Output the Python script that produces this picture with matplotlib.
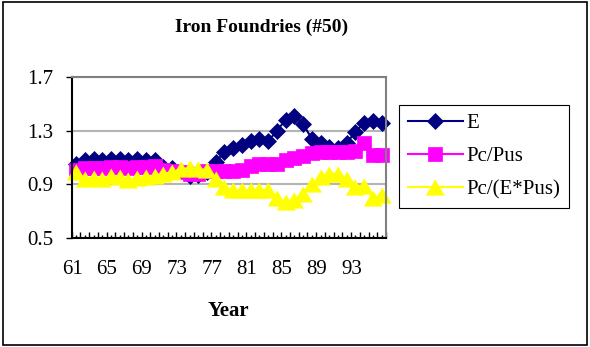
import numpy as np
import matplotlib.pyplot as plt
from matplotlib.patches import Rectangle
from matplotlib.transforms import ScaledTranslation

# annual series, 1961-1996
years = np.arange(61, 97)
e_idx = [1.05, 1.08, 1.09, 1.08, 1.09, 1.09, 1.08, 1.09, 1.08, 1.08,
         1.03, 1.02, 1.00, 0.96, 0.97, 0.99, 1.07, 1.14, 1.17, 1.19,
         1.22, 1.24, 1.22, 1.30, 1.38, 1.41, 1.35, 1.24, 1.21, 1.18,
         1.17, 1.21, 1.29, 1.36, 1.37, 1.36]
pc_pus = [1.01, 1.02, 1.02, 1.02, 1.03, 1.03, 1.02, 1.03, 1.03, 1.04,
          1.01, 1.00, 0.99, 0.98, 0.98, 1.00, 1.00, 1.00, 1.00, 1.01,
          1.04, 1.05, 1.05, 1.055, 1.08, 1.10, 1.11, 1.13, 1.14, 1.14,
          1.14, 1.14, 1.15, 1.21, 1.12, 1.12]
pc_e_pus = [0.99, 0.94, 0.95, 0.94, 0.96, 0.955, 0.935, 0.945, 0.955, 0.965,
            0.98, 0.99, 1.015, 1.02, 1.015, 1.005, 0.94, 0.88, 0.855, 0.855,
            0.855, 0.855, 0.86, 0.795, 0.765, 0.78, 0.83, 0.90, 0.955, 0.98,
            0.98, 0.94, 0.88, 0.89, 0.795, 0.82]
tick_years = [61, 65, 69, 73, 77, 81, 85, 89, 93]
y_ticks = [0.5, 0.9, 1.3, 1.7]

plt.rcParams['font.family'] = ['Liberation Serif', 'DejaVu Serif']

W, H, DPI = 590, 347, 100
fig = plt.figure(figsize=(W / DPI, H / DPI), dpi=DPI)
ax = fig.add_axes([71.7 / W, 1 - 238 / H, (386 - 71.7) / W, (238 - 77) / H])

tri = [(0, 0.85), (-1, -0.85), (1, -0.85)]
ax.plot(years, e_idx, color='#000080', lw=1.5, marker='D', ms=7.8,
        mfc='#000080', mec='#000080', mew=0.5, clip_on=False, label='E')
ax.plot(years, pc_pus, color='#FF00FF', lw=1.5, marker='s', ms=10,
        mfc='#FF00FF', mec='#FF00FF', mew=0.5, clip_on=False, label='Pc/Pus')
ax.plot(years, pc_e_pus, color='#FFFF00', lw=1.5, marker=tri, ms=13,
        mfc='#FFFF00', mec='#FFFF00', mew=0.5, clip_on=False, label='Pc/(E*Pus)')

ax.set_xlim(60.5, 96.5)
ax.set_ylim(0.5, 1.7)

# excel-like frame: black axes, grey plot-area border
for side in ['left', 'bottom']:
    ax.spines[side].set_color('black')
    ax.spines[side].set_linewidth(1.5)
for side in ['top', 'right']:
    ax.spines[side].set_color('#808080')
    ax.spines[side].set_linewidth(1.5)

ax.set_yticks(y_ticks)
ax.set_yticklabels([f'{v:.1f}' for v in y_ticks])
ax.yaxis.grid(True, color='#b4b4b4', lw=1.5)
ax.set_axisbelow(True)

ax.set_xticks(years)
ax.set_xticklabels([str(y) if y in tick_years else '' for y in years])
ax.set_xticks(np.arange(60.5, 97, 1), minor=True)
ax.tick_params(axis='x', which='major', direction='in', length=2, width=1,
               pad=15.5, labelsize=15)
ax.tick_params(axis='x', which='minor', direction='in', length=4, width=1)
ax.tick_params(axis='y', direction='out', length=4, width=1, pad=9,
               labelsize=15)

ax.set_xlabel('Year', fontsize=15, fontweight='bold', va='center')
ax.xaxis.set_label_coords(0.5, (238 - 310.7) / 161)

fig.text(262 / W, 1 - 27 / H, 'Iron Foundries (#50)', ha='center', va='center',
         fontsize=14, fontweight='bold')

leg = ax.legend(loc='upper left', bbox_to_anchor=(399.3 / W, 1 - 105 / H),
                bbox_transform=fig.transFigure, borderaxespad=0, fontsize=15,
                handlelength=2.64, handletextpad=0.2, borderpad=0.4,
                labelspacing=0.66, fancybox=False, framealpha=1)
leg.get_frame().set_edgecolor('black')
leg.get_frame().set_linewidth(0.8)

# chart border
fig.patches.append(Rectangle((3 / W, 2 / H), 584 / W, 343 / H,
                             transform=fig.transFigure, fill=False,
                             ec='black', lw=1.2))

# shift year labels slightly left
shift = ScaledTranslation(-4 / DPI, 0, fig.dpi_scale_trans)
for lbl in ax.get_xticklabels():
    lbl.set_transform(lbl.get_transform() + shift)

fig.savefig('out.png', dpi=DPI)
